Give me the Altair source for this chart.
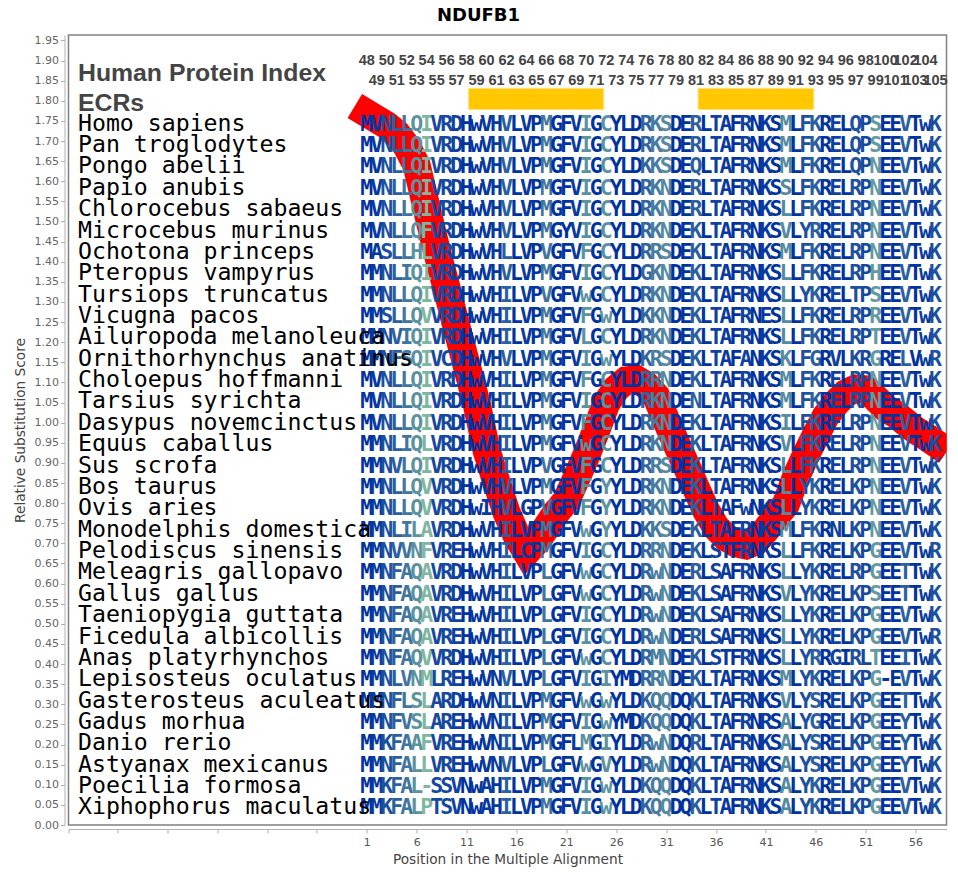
import altair as alt
import pandas as pd

species = ["Homo sapiens","Pan troglodytes","Pongo abelii","Papio anubis","Chlorocebus sabaeus",
"Microcebus murinus","Ochotona princeps","Pteropus vampyrus","Tursiops truncatus","Vicugna pacos",
"Ailuropoda melanoleuca","Ornithorhynchus anatinus","Choloepus hoffmanni","Tarsius syrichta",
"Dasypus novemcinctus","Equus caballus","Sus scrofa","Bos taurus","Ovis aries","Monodelphis domestica",
"Pelodiscus sinensis","Meleagris gallopavo","Gallus gallus","Taeniopygia guttata","Ficedula albicollis",
"Anas platyrhynchos","Lepisosteus oculatus","Gasterosteus aculeatus","Gadus morhua","Danio rerio",
"Astyanax mexicanus","Poecilia formosa","Xiphophorus maculatus"]

alignment = [
"MVNLLQIVRDHwVHVLVPMGFVIGCYLDRKSDERLTAFRNKSMLFKRELQPSEEVTwK",
"MVNLLQIVRDHwVHVLVPMGFVIGCYLDRKSDERLTAFRNKSMLFKRELQPSEEVTwK",
"MVNLLQIVRDHwVHVLVPMGFVIGCYLDKKSDEQLTAFRNKSMLFKRELQPNEEVTwK",
"MVNLLQIVRDHwVHVLVPMGFVIGCYLDRKNDERLTAFRNKSSLFKRELRPNEEVTwK",
"MVNLLQIVRDHwVHVLVPMGFVIGCYLDRKNDERLTAFRNKSLLFKRELRPNEEVTwK",
"MVNLLQFVRDHwVHVLVPMGYVIGCYLDRKNDEKLTAFRNKSVLYRRELRPNEEVTwK",
"MASLLHLVRDHwVHLLVPVGFVFGCYLDRRSDEKLTAFRNKSMLFKRELRPNEEVTwK",
"MMNLIQIVRDHwVHVLVPMGFVIGCYLDGKNDEKLTAFRNKSLLFKRELRPHEEVTwK",
"MMNLLQIVRDHwVHILVPVGFVwGCYLDRKNDEKLTAFRNKSLLYKRELTPSEEVTwK",
"MMSLLQVVRDHwVHILVPMGFVFGwYLDKKNDEKLTAFRNESLLFKRELRPREEVTwK",
"MMNVIQIVRDHwVHILVPMGFVLGCYLDRKNDEKLTAFRNKSLLFKRELRPTEEVTwK",
"MMNFSQIVCDHwVHVLVPMGFVIGwYLDKRSDEKLTAFANKSKLFGRVLKRGRELVwR",
"MVNLLQIVRDHwVHILVPMGFVFGCYLDRRNDEKLTAFRNKSMLFKRELRPNEEVTwK",
"MVNLLQIVRDHwVHILVPMGFVIGCYLDRKNDENLTAFRNKSMLFKRELRPNEEVTwK",
"MVNLLQIVRDHwVHILVPMGFVFGCYLDRKNDEKLTAFRNKSILFKRELRPNEEVTwK",
"MMNLIQLVRDHwVHILVPMGFVwGCYLDRKNDEKLTAFRNKSVLFKRELRPNEEVTwK",
"MMNVLQIVRDHwVHILVPVGFVFGCYLDRRSDEKLTAFRNKSLLFKRELRPNEEVTwK",
"MMNLLQVVRDHwVHVLVPMGFVFGYYLDRKNDEKLTAFRNKSLLYKRELKPNEEVTwK",
"MMNLLQVVRDHwIHVLGPVGFVFGYYLDRKNDEKLTAFwNKSLLYKRELKPNEEVTwK",
"MMNLILAVRDHwVHILVPMGFVwGYYLDKKSDEKLTAFRNKSMLFKRNLKPNEEVTwK",
"MMNVVNFVREHwVHILCPMGFVIGCYLDRRNDEKLSTFRNKSLLFKRELKPGEEVTwR",
"MMNFAQAVRDHwVHILVPLGFVwGCYLDRwNDERLSAFRNKSLLYKRELRPGEETTwK",
"MMNFAQAVRDHwVHILVPLGFVwGCYLDRwNDEKLSAFRNKSVLYKRELKPSEETTwK",
"MMNFAQAVREHwVHILVPLGFVIGCYLDRwNDEKLSAFRNKSLLYKRELKPGEEVTwK",
"MMNFAQAVREHwVHILVPLGFVIGCYLDRwNDERLSAFRNKSLLYKRELKPGEEVTwR",
"MMNFAQVVRDHwVHILVPLGFVwGCYLDRMNDEKLSTFRNKSLLYRRGIRLTEEITwK",
"MMNLVNMLREHwVNVLVPLGFVIGIYMDRRNDEKLTAFRNKSMLYKRELKPG-EVTwK",
"MMNFLSLARDHwVNILVPMGFVwGwYLDKQQDQKLTAFRNKSVLYSRELKPGEETTwK",
"MMNFVSLAREHwVNILVPMGFVIGwYMDKQQDQKLTAFRNRSALYGRELKPGEEYTwK",
"MMKFAAFVREHwVNILVPMGFLMGIYLDRwNDQRLTAFRNKSALYSRELKPGEEYTwK",
"MMNFALLVREHwVNVLVPLGFVwGVYLDRwNDQKLTAFRNKSALYSRELKPGEEYTwK",
"MMKFAL-SSVNwAHILVPMGFVIGwYLDKQQDQKLTAFRNKSALYKRELKPGEEVTwK",
"MMKFALPTSVNwAHILVPMGFVIGwYLDKQQDQKLTAFRNKSALYKRELKPGEEVTwK",
]

conservation = [1.0,.95,.8,.7,.55,.35,.1,.85,.85,.9,
1,1,.95,.95,.7,1,.95,1,.55,1,
1,.95,.35,1,.35,1,1,1,.65,.5,
.4,1,1,.7,1,.9,.95,1,.9,1,
.95,1,.4,1,.8,.7,1,.9,1,.8,
.85,.3,1,1,.7,1,.95,.8]

line_scores = [1.769,1.754,1.739,1.719,1.687,1.639,1.533,1.428,1.334,1.237,
1.143,1.048,.931,.852,.777,.720,.678,.705,.740,.777,
.807,.862,.919,.981,1.048,1.085,1.105,1.108,1.093,1.066,
1.006,.949,.894,.837,.782,.740,.715,.700,.695,.705,
.733,.767,.797,.864,.919,.969,1.016,1.048,1.073,1.085,
1.083,1.061,1.036,1.021,1.001,.981,.966,.949]

first_residue = 48
ecr_starts = [11.2, 34.2]
ecr_ends = [24.75, 45.8]
ecr_low, ecr_high = 1.778, 1.831
header_labels = ["Human Protein Index", "ECRs"]
header_levels = [1.85, 1.774]
even_level, odd_level = 1.890, 1.838
first_row_level = 1.7255
row_step = 0.0531
label_position = -27.95

X = alt.Scale(domain=[-28.9, 59.1], nice=False, zero=False)
Y = alt.Scale(domain=[0, 1.9635], nice=False, zero=False)

cells = []
for i, seq in enumerate(alignment):
    for j, ch in enumerate(seq):
        cells.append(dict(pos=j + 1, level=first_row_level - i * row_step, ch=ch, cons=conservation[j]))
cells = pd.DataFrame(cells)
names = pd.DataFrame(dict(name=species, pos=label_position,
                          level=[first_row_level - i * row_step for i in range(len(species))]))
line_df = pd.DataFrame(dict(pos=range(1, 59), score=line_scores))
ecr = pd.DataFrame(dict(a=ecr_starts, b=ecr_ends, lo=ecr_low, hi=ecr_high))
heads = pd.DataFrame(dict(t=header_labels, pos=label_position, level=header_levels))
res = pd.DataFrame([dict(pos=j + 1, t=str(first_residue + j),
                         level=even_level if j % 2 == 0 else odd_level) for j in range(58)])

x_ticks = [-28.9] + list(range(-24, 57, 5))
y_ticks = [round(i * 0.05, 2) for i in range(40)]

x_axis = alt.Axis(title="Position in the Multiple Alignment", values=x_ticks, grid=False, offset=4,
                  labelExpr="datum.value >= 1 ? datum.label : ''", format="d",
                  domainColor="#b0b0b0", tickColor="#b0b0b0", tickSize=4, labelColor="#555555",
                  labelFont="DejaVu Sans", labelFontSize=11, labelPadding=3, labelOverlap=False,
                  titleFont="DejaVu Sans", titleFontSize=13.7, titleFontWeight="normal",
                  titleColor="#444444", titlePadding=5)
y_axis = alt.Axis(title="Relative Substitution Score", values=y_ticks, grid=False, offset=4, format=".2f",
                  domainColor="#b0b0b0", tickColor="#b0b0b0", tickSize=4, labelColor="#666666",
                  labelFont="DejaVu Sans", labelFontSize=11, labelPadding=2, labelOverlap=False,
                  titleFont="DejaVu Sans", titleFontSize=13.7, titleFontWeight="normal",
                  titleColor="#444444", titlePadding=7)
PX = alt.X("pos:Q", scale=X, axis=x_axis)
PY = alt.Y("level:Q", scale=Y, axis=y_axis)

line = alt.Chart(line_df).mark_line(color="#ff0000", strokeWidth=28, strokeCap="square",
                                    strokeJoin="miter", clip=True).encode(
    x=PX, y=alt.Y("score:Q", scale=Y, axis=y_axis))
bars = alt.Chart(ecr).mark_rect(color="#ffc800", stroke="#ffe38a", strokeWidth=1).encode(
    x=alt.X("a:Q", scale=X, axis=x_axis), x2="b:Q", y=alt.Y("lo:Q", scale=Y, axis=y_axis), y2="hi:Q")
letters = alt.Chart(cells).mark_text(font="DejaVu Sans Mono", fontSize=21.5, fontWeight="bold",
                                     baseline="alphabetic", align="center").encode(
    x=PX, y=PY, text="ch:N",
    color=alt.Color("cons:Q", scale=alt.Scale(domain=[0, 1], range=["#8ec5a0", "#0033a0"], interpolate="rgb"),
                    legend=None))
labels = alt.Chart(names).mark_text(font="DejaVu Sans Mono", fontSize=23.2, align="left", baseline="alphabetic",
                                    color="#000000").encode(x=PX, y=PY, text="name:N")
head = alt.Chart(heads).mark_text(font="Liberation Sans", fontWeight="bold", fontSize=24.8, align="left",
                                  baseline="alphabetic", color="#444444").encode(x=PX, y=PY, text="t:N")
numbers = alt.Chart(res).mark_text(font="Liberation Sans", fontWeight="bold", fontSize=14.5, align="center",
                                   baseline="alphabetic", color="#444444").encode(x=PX, y=PY, text="t:N")

chart = alt.layer(line, bars, letters, labels, head, numbers).properties(
    width=878, height=790,
    padding={"left": 60.5, "top": 27, "right": 3, "bottom": 46},
    autosize=alt.AutoSizeParams(type="none"),
    title=alt.TitleParams("NDUFB1", font="DejaVu Sans", fontSize=18, fontWeight="bold", color="#000000",
                          anchor="middle", dx=-29, offset=9),
).configure_view(stroke="#808080", strokeWidth=1.5)

chart.save("out.html", embed_options={"renderer": "svg", "actions": False})
